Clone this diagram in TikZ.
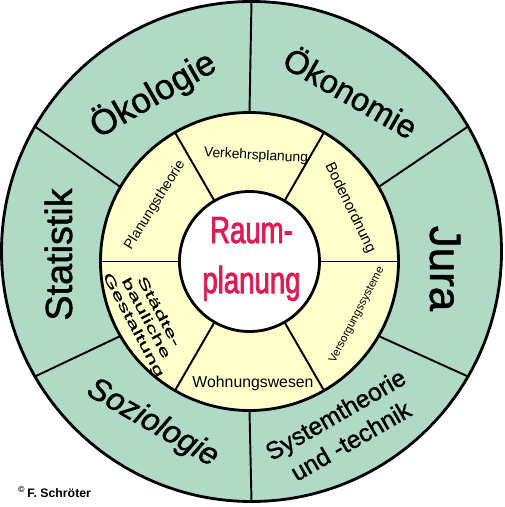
\documentclass[tikz,border=0pt]{standalone}
\usepackage{fontspec}
\setmainfont{Liberation Sans}
\newfontfamily\subjfont[FakeBold=1.2]{Liberation Sans}
\newfontfamily\raumfont[FakeStretch=0.73,FakeBold=2]{Liberation Sans}
\newfontfamily\widefont[FakeStretch=1.8,FakeBold=0.6]{Liberation Sans}
\usetikzlibrary{calc}
\definecolor{ringgreen}{RGB}{176,218,198}
\definecolor{ringyellow}{RGB}{255,255,204}
\definecolor{raumred}{RGB}{222,28,84}
\newcommand{\fsize}[2]{\fontsize{#1}{#2}\selectfont}

\begin{document}
\begin{tikzpicture}[x=0.2mm,y=0.2mm,
  ring/.style={line width=1.6pt},
  divider/.style={line width=1.1pt},
  subject/.style={inner sep=0pt}]
\useasboundingbox (-251.5,-255.5) rectangle (253.5,251.5);
\coordinate (O) at (0,0);
\coordinate (M) at (-2,-10);

% outer ring
\draw[ring, fill=ringgreen] (O) circle (250);
\foreach \a in {30,90,...,330}
  \draw[divider] (\a:250) -- ($(M)+(\a:149)$);
% middle ring
\draw[ring, fill=ringyellow] (M) circle (149);
\foreach \a in {0,60,...,300}
  \draw[divider] ($(M)+(\a:70)$) -- ($(M)+(\a:149)$);
% core
\draw[ring, fill=white] (M) circle (70);

% subjects
\node[subject, rotate=30, font=\subjfont\fsize{20}{22}] (oekologie) at (-98.5,157) {Ökologie};
\node[subject, rotate=-30, font=\subjfont\fsize{18.5}{22}] (oekonomie) at (100,160) {Ökonomie};
\node[subject, rotate=-90, font=\subjfont\fsize{25}{28}] (jura) at (193.5,-17) {Jura};
\node[subject, rotate=90, font=\subjfont\fsize{21.5}{24}] (statistik) at (-193,-3) {Statistik};
\node[subject, rotate=-30, font=\subjfont\itshape\fsize{18}{20}] (soziologie) at (-99,-172) {Soziologie};
\node[subject, rotate=30, align=center, font=\subjfont\fsize{14}{17.4}] (systemtheorie) at (91.5,-176) {Systemtheorie\\und -technik};

% fields
\node[subject, rotate=-3, font=\fsize{7.9}{9}] (verkehr) at (4.5,95.5) {Verkehrsplanung};
\node[subject, rotate=-64, font=\fsize{8.5}{9}] (boden) at (98.5,43.5) {Bodenordnung};
\node[subject, rotate=62.5, font=\fsize{6.5}{8}] (versorgung) at (105.5,-63.5) {Versorgungssysteme};
\node[subject, font=\fsize{9}{10}] (wohnung) at (1.5,-131.5) {Wohnungswesen};
\node[subject, rotate=58, font=\fsize{8}{9}] (planungstheorie) at (-96.5,46.5) {Planungstheorie};
\node[subject, rotate=-62, align=center, font=\widefont\fsize{7.6}{8.2}] (staedtebau) at (-106,-67) {Städte-\\bauliche\\Gestaltung};

\node[subject, align=center, text=raumred, font=\raumfont\fsize{21.5}{28.5}] (raum) at (0,-7.5) {Raum-\\planung};

\node[subject, font=\bfseries\fsize{7}{8}] (autor) at (-197,-240.5) {\textsuperscript{\textcopyright}\,F. Schröter};
\end{tikzpicture}
\end{document}
